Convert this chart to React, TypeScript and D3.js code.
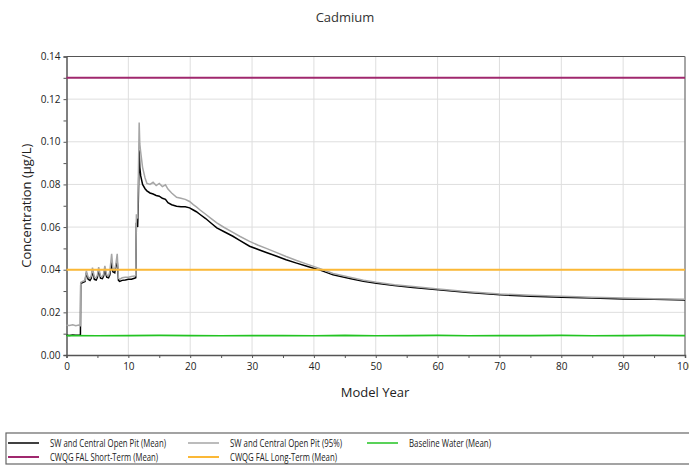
import React, { useEffect, useRef } from "react";
import * as d3 from "d3";

const TITLE = "Cadmium";
const X_LABEL = "Model Year";
const Y_LABEL = "Concentration (µg/L)";

const xTicks = [0, 10, 20, 30, 40, 50, 60, 70, 80, 90, 100];
const yTicks = [0, 0.02, 0.04, 0.06, 0.08, 0.1, 0.12, 0.14];

const years = [0, 0.5, 1, 1.5, 2, 2.25, 2.3, 2.6, 3.0, 3.2, 3.5, 3.8, 4.0, 4.2, 4.5, 4.8, 5.0, 5.2, 5.5, 5.8, 6.0, 6.2, 6.5, 6.8, 7.0, 7.3, 7.5, 7.8, 8.0, 8.2, 8.4, 8.6, 9, 9.5, 10, 10.5, 11, 11.2, 11.3, 11.5, 11.6, 11.75, 11.85, 12.0, 12.3, 12.7, 13.0, 13.5, 14, 14.5, 15, 15.5, 16, 16.4, 17, 17.8, 18.5, 19.2, 19.9, 20.5, 21, 21.6, 22.5, 23.4, 24.3, 25.5, 26.9, 28, 29.6, 31, 32.3, 34, 35.5, 37.2, 39, 41, 43.1, 46, 48, 50.1, 53, 56, 60.1, 65, 70.1, 75, 80, 85, 90, 95, 100];

const meanValues = [0.0093, 0.0092, 0.0094, 0.0093, 0.0093, 0.0093, 0.0335, 0.034, 0.0345, 0.0385, 0.0355, 0.035, 0.036, 0.0395, 0.0355, 0.0352, 0.0365, 0.0398, 0.036, 0.0358, 0.037, 0.0402, 0.0365, 0.0362, 0.0375, 0.0435, 0.039, 0.0385, 0.042, 0.044, 0.035, 0.0345, 0.035, 0.0352, 0.0355, 0.0355, 0.036, 0.0362, 0.062, 0.06, 0.07, 0.096, 0.088, 0.084, 0.08, 0.078, 0.077, 0.076, 0.0755, 0.0748, 0.0745, 0.0735, 0.073, 0.0714, 0.0705, 0.0698, 0.0695, 0.0695, 0.069, 0.068, 0.0672, 0.0659, 0.064, 0.0618, 0.0596, 0.0578, 0.0557, 0.0538, 0.051, 0.0495, 0.0481, 0.0463, 0.0447, 0.0431, 0.0415, 0.0398, 0.0376, 0.0358, 0.0346, 0.0337, 0.0326, 0.0317, 0.0306, 0.0293, 0.0282, 0.0276, 0.0271, 0.0267, 0.0263, 0.0261, 0.0258];

const p95Values = [0.014, 0.0138, 0.0142, 0.0137, 0.0141, 0.0138, 0.034, 0.0345, 0.035, 0.0395, 0.0365, 0.036, 0.037, 0.041, 0.0365, 0.0362, 0.0375, 0.0412, 0.037, 0.0368, 0.038, 0.0418, 0.0375, 0.0372, 0.039, 0.0475, 0.0405, 0.04, 0.043, 0.0475, 0.036, 0.0355, 0.0362, 0.0365, 0.0365, 0.0368, 0.037, 0.0372, 0.066, 0.064, 0.08, 0.109, 0.099, 0.095, 0.088, 0.083, 0.0805, 0.08, 0.081, 0.0795, 0.0805, 0.079, 0.0798, 0.0778, 0.076, 0.074, 0.0735, 0.073, 0.072, 0.0705, 0.0695, 0.068, 0.066, 0.064, 0.062, 0.0598, 0.0575, 0.0557, 0.0533, 0.0515, 0.05, 0.048, 0.0462, 0.0443, 0.0425, 0.0405, 0.0382, 0.0363, 0.0351, 0.0341, 0.033, 0.0321, 0.031, 0.0297, 0.0286, 0.028, 0.0275, 0.0271, 0.0267, 0.0264, 0.0261];

const baselineYears = [0, 5, 10, 15, 20, 25, 30, 35, 40, 45, 50, 55, 60, 65, 70, 75, 80, 85, 90, 95, 100];
const baselineValues = [0.0091, 0.009, 0.0091, 0.0092, 0.0091, 0.009, 0.0091, 0.0091, 0.009, 0.0092, 0.009, 0.0091, 0.0092, 0.009, 0.0091, 0.0091, 0.0092, 0.009, 0.0091, 0.0092, 0.0091];

const shortTermValue = 0.13;
const longTermValue = 0.04;

const legendLabels = [
  "SW and Central Open Pit (Mean)",
  "SW and Central Open Pit (95%)",
  "Baseline Water (Mean)",
  "CWQG FAL Short-Term (Mean)",
  "CWQG FAL Long-Term (Mean)",
];
const legendTextWidths = [116, 112, 82, 108, 107];
const colors = ["#000000", "#a6a6a6", "#22c322", "#a0286e", "#fbb836"];

const W = 689;
const H = 465;
const M = { left: 66.5, right: 685, top: 56.5, bottom: 355 };
const FONT = "'Open Sans', 'Noto Sans', sans-serif";

export default function App() {
  const ref = useRef<SVGSVGElement | null>(null);

  useEffect(() => {
    const svg = d3.select(ref.current);
    svg.selectAll("*").remove();

    const x = d3.scaleLinear().domain([0, 100]).range([M.left, M.right]);
    const y = d3.scaleLinear().domain([0, 0.14]).range([M.bottom, M.top]);

    // grid
    const g = svg.append("g");
    g.selectAll("line.vx")
      .data(xTicks.slice(1, -1))
      .join("line")
      .attr("x1", (d) => x(d))
      .attr("x2", (d) => x(d))
      .attr("y1", M.top)
      .attr("y2", M.bottom)
      .attr("stroke", "#dedede")
      .attr("stroke-width", 1);
    g.selectAll("line.hy")
      .data(yTicks.slice(1, -1))
      .join("line")
      .attr("x1", M.left)
      .attr("x2", M.right)
      .attr("y1", (d) => y(d))
      .attr("y2", (d) => y(d))
      .attr("stroke", "#dedede")
      .attr("stroke-width", 1);

    // borders
    svg.append("line").attr("x1", M.left).attr("x2", M.right).attr("y1", M.top).attr("y2", M.top).attr("stroke", "#555").attr("stroke-width", 1);
    svg.append("line").attr("x1", M.right).attr("x2", M.right).attr("y1", M.top).attr("y2", M.bottom).attr("stroke", "#888").attr("stroke-width", 1.5);

    // axes
    const xAxis = d3
      .axisBottom(x)
      .tickValues(d3.range(0, 101, 5))
      .tickSize(3)
      .tickFormat((d) => ((d as number) % 10 === 0 ? String(d) : ""));
    const xg = svg.append("g").attr("transform", `translate(0,${M.bottom})`).call(xAxis);
    xg.select(".domain").attr("stroke", "#555").attr("stroke-width", 1.5);
    xg.selectAll(".tick line").attr("stroke", "#555");
    xg.selectAll("text").attr("font-family", FONT).attr("font-size", 10).attr("fill", "#222").attr("dy", "0.9em");

    const yAxis = d3
      .axisLeft(y)
      .tickValues(d3.range(0, 0.1401, 0.01))
      .tickSize(3)
      .tickFormat((d) => {
        const v = d as number;
        return Math.round(v * 100) % 2 === 0 ? v.toFixed(2) : "";
      });
    const yg = svg.append("g").attr("transform", `translate(${M.left},0)`).call(yAxis);
    yg.select(".domain").attr("stroke", "#555").attr("stroke-width", 1.5);
    yg.selectAll(".tick line").attr("stroke", "#555");
    yg.selectAll("text").attr("font-family", FONT).attr("font-size", 10).attr("fill", "#222");

    const line = d3
      .line<[number, number]>()
      .x((d) => x(d[0]))
      .y((d) => y(d[1]));

    const mean = years.map((yr, i) => [yr, meanValues[i]] as [number, number]);
    svg.append("path").attr("d", line(mean)).attr("fill", "none").attr("stroke", colors[0]).attr("stroke-width", 1.5);

    const p95 = years.map((yr, i) => [yr, p95Values[i]] as [number, number]);
    svg.append("path").attr("d", line(p95)).attr("fill", "none").attr("stroke", colors[1]).attr("stroke-width", 1.5);

    const base = baselineYears.map((yr, i) => [yr, baselineValues[i]] as [number, number]);
    svg.append("path").attr("d", line(base)).attr("fill", "none").attr("stroke", colors[2]).attr("stroke-width", 1.6);

    // reference lines
    svg.append("line").attr("x1", x(0)).attr("x2", x(100)).attr("y1", y(shortTermValue)).attr("y2", y(shortTermValue)).attr("stroke", colors[3]).attr("stroke-width", 2);
    svg.append("line").attr("x1", x(0)).attr("x2", x(100)).attr("y1", y(longTermValue)).attr("y2", y(longTermValue)).attr("stroke", colors[4]).attr("stroke-width", 2);

    // titles
    svg.append("text").attr("x", 345).attr("y", 22).attr("text-anchor", "middle").attr("font-family", FONT).attr("font-size", 13).attr("fill", "#333").text(TITLE);
    svg.append("text").attr("x", 375).attr("y", 397).attr("text-anchor", "middle").attr("font-family", FONT).attr("font-size", 13).attr("fill", "#222").text(X_LABEL);
    svg.append("text").attr("transform", `translate(31,${(M.top + M.bottom) / 2}) rotate(-90)`).attr("text-anchor", "middle").attr("font-family", FONT).attr("font-size", 13).attr("fill", "#222").text(Y_LABEL);

    // legend
    svg.append("rect").attr("x", 6).attr("y", 433).attr("width", 690).attr("height", 31).attr("fill", "none").attr("stroke", "#666").attr("stroke-width", 1.2);
    const legendPos = [
      [8, 443],
      [188, 443],
      [367, 443],
      [8, 457],
      [188, 457],
    ];
    legendLabels.forEach((lab, i) => {
      const [lx, ly] = legendPos[i];
      svg.append("line").attr("x1", lx).attr("x2", lx + 31).attr("y1", ly).attr("y2", ly).attr("stroke", colors[i]).attr("stroke-width", i >= 3 ? 2 : 1.5);
      svg
        .append("text")
        .attr("x", lx + 42)
        .attr("y", ly + 3.8)
        .attr("font-family", FONT)
        .attr("font-size", 10.5)
        .attr("fill", "#222")
        .attr("textLength", legendTextWidths[i])
        .attr("lengthAdjust", "spacingAndGlyphs")
        .text(lab);
    });
  }, []);

  return (
    <svg
      ref={ref}
      width={W}
      height={H}
      style={{ position: "absolute", left: 0, top: 0, display: "block", background: "#fff" }}
    />
  );
}
